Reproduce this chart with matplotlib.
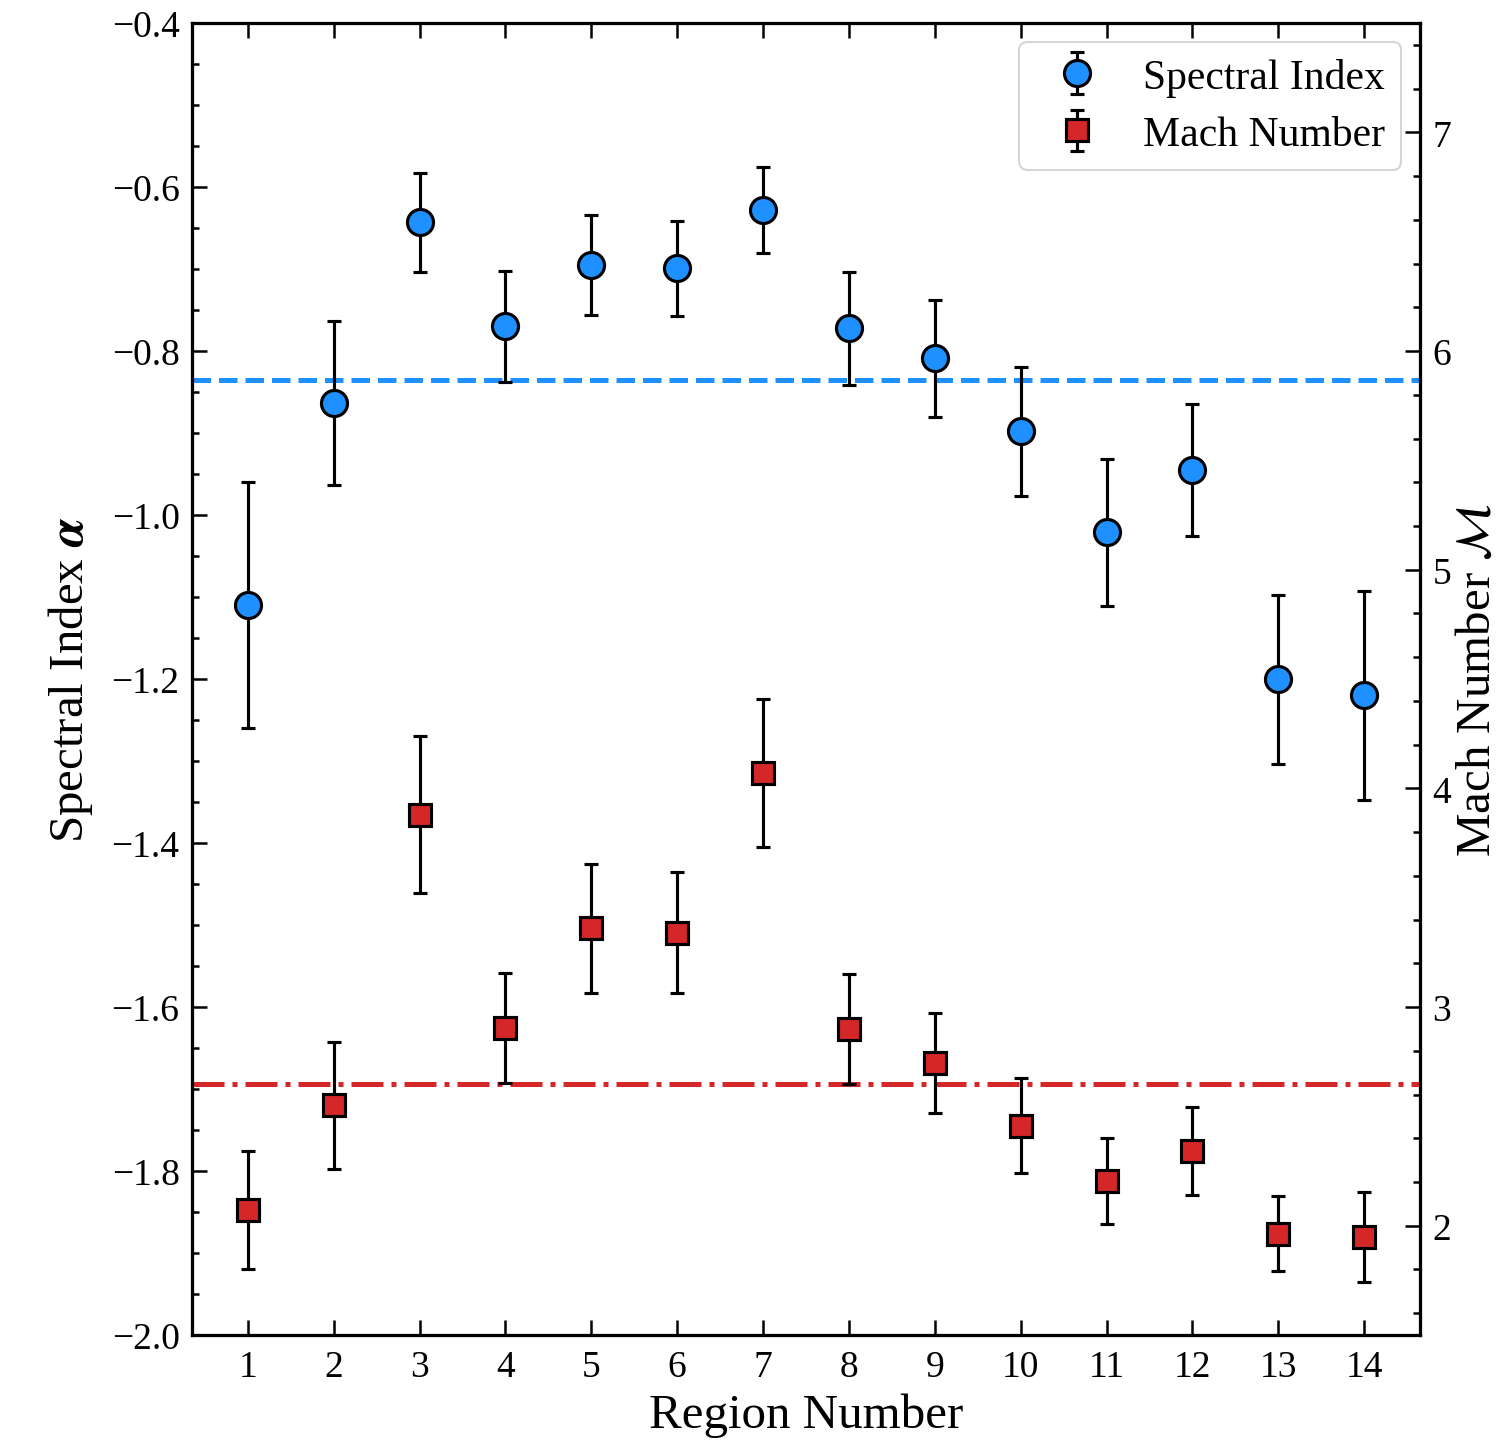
import matplotlib

matplotlib.use("Agg")
import matplotlib.pyplot as plt
from matplotlib.ticker import MultipleLocator, NullLocator

plt.rcParams["font.family"] = ["Liberation Serif", "DejaVu Serif"]
plt.rcParams["mathtext.fontset"] = "stix"

# data
regions = list(range(1, 15))
alpha = [-1.11, -0.863, -0.643, -0.770, -0.695, -0.699, -0.628,
         -0.772, -0.809, -0.898, -1.021, -0.945, -1.200, -1.220]
alpha_err = [0.15, 0.10, 0.06, 0.068, 0.061, 0.058, 0.052,
             0.069, 0.071, 0.079, 0.090, 0.080, 0.103, 0.128]
mach = [2.07, 2.55, 3.88, 2.905, 3.36, 3.34, 4.07,
        2.90, 2.745, 2.457, 2.205, 2.342, 1.963, 1.949]
mach_err = [0.27, 0.29, 0.36, 0.25, 0.295, 0.277, 0.34,
            0.25, 0.23, 0.217, 0.195, 0.20, 0.172, 0.205]
alpha_mean = -0.835
mach_mean = 2.65

blue = "#1E90FF"
red = "#D62728"

fig = plt.figure(figsize=(10, 9.653), dpi=150)
ax = fig.add_axes([0.128, 0.0773, 0.8187, 0.9061])
ax2 = ax.twinx()

ax.axhline(alpha_mean, color=blue, ls="--", lw=2.4, zorder=1)
ax2.axhline(mach_mean, color=red, ls="-.", lw=2.4, zorder=1)

ebkw = dict(ls="none", ecolor="black", elinewidth=1.5, capsize=3.4,
            capthick=1.7, markeredgecolor="black", markeredgewidth=1.5)
h1 = ax.errorbar(regions, alpha, yerr=alpha_err, fmt="o", ms=12.5,
                 markerfacecolor=blue, label="Spectral Index", zorder=3, **ebkw)
h2 = ax2.errorbar(regions, mach, yerr=mach_err, fmt="s", ms=10.5,
                  markerfacecolor=red, label="Mach Number", zorder=3, **ebkw)

ax.set_xlim(0.35, 14.65)
ax.set_ylim(-2.0, -0.4)
ax2.set_ylim(1.5, 7.5)

ax.set_xticks(regions)
ax.xaxis.set_minor_locator(NullLocator())
ax.yaxis.set_major_locator(MultipleLocator(0.2))
ax.yaxis.set_minor_locator(MultipleLocator(0.05))
ax2.yaxis.set_major_locator(MultipleLocator(1))
ax2.yaxis.set_minor_locator(MultipleLocator(0.2))

ax.tick_params(which="both", direction="in", top=True, right=False,
               labelsize=18, width=1.2)
ax.tick_params(which="major", length=7, pad=6)
ax.tick_params(axis="x", which="major", pad=7)
ax.tick_params(which="minor", length=3.5)
ax2.tick_params(which="both", direction="in", labelsize=18, width=1.2)
ax2.tick_params(which="major", length=7, pad=6)
ax2.tick_params(which="minor", length=3.5)
for a in (ax, ax2):
    for s in a.spines.values():
        s.set_linewidth(1.5)

ax.set_xlabel("Region Number", fontsize=23.5, labelpad=4)
ax.set_ylabel(r"Spectral Index $\mathbfit{\alpha}$", fontsize=23.5, labelpad=8)
ax2.set_ylabel(r"Mach Number $\mathcal{M}$", fontsize=23.5, labelpad=2)

leg = ax2.legend([h1, h2], ["Spectral Index", "Mach Number"],
                 loc="upper right", fontsize=20, fancybox=True,
                 framealpha=0.8, edgecolor="#cccccc", handletextpad=0.6,
                 borderpad=0.38, labelspacing=0.45, borderaxespad=0.45)

fig.savefig("out.png", dpi=150)
